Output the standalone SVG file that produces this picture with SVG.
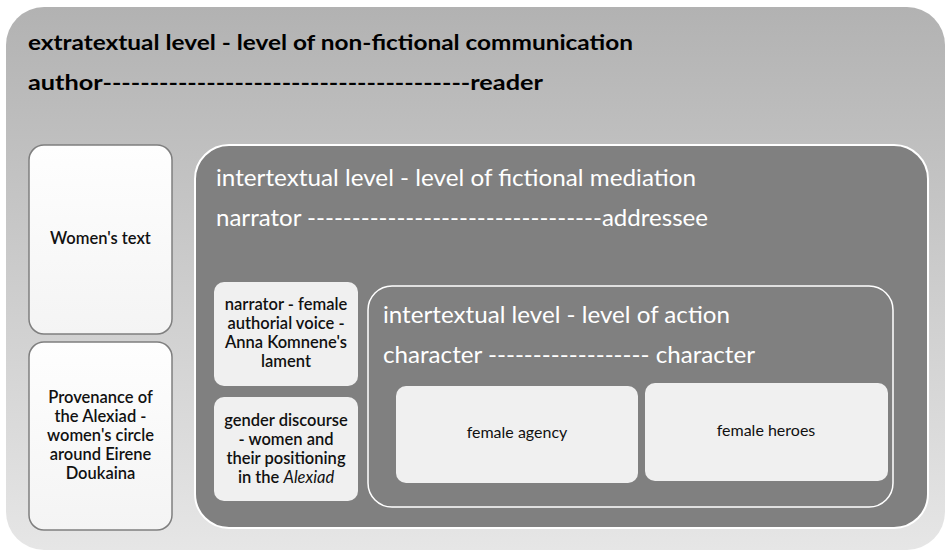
<svg xmlns="http://www.w3.org/2000/svg" width="949" height="553" viewBox="0 0 949 553">
<defs>
<linearGradient id="gOuter" x1="0" y1="0" x2="0" y2="1">
<stop offset="0" stop-color="#b2b2b2"/>
<stop offset="1" stop-color="#e6e6e6"/>
</linearGradient>
<linearGradient id="gSide" x1="0" y1="0" x2="0" y2="1">
<stop offset="0" stop-color="#fefefe"/>
<stop offset="1" stop-color="#f4f4f4"/>
</linearGradient>
</defs>
<style>
.hdr{font-family:Lato,"Liberation Sans",sans-serif;font-size:21px;font-weight:bold;fill:#000}
.wht{font-family:Lato,"Liberation Sans",sans-serif;font-size:23px;fill:#ffffff}
.lbl{font-family:Lato,"Liberation Sans",sans-serif;font-size:16.5px;font-weight:600;fill:#111;text-anchor:middle}
.lbl2{font-family:Lato,"Liberation Sans",sans-serif;font-size:16px;fill:#111;text-anchor:middle}
.side{fill:url(#gSide);stroke:#7f7f7f;stroke-width:1.5}
.soft{fill:#f0f0f0}
</style>
<g id="extratextual">
<rect x="6" y="7" width="939" height="543" rx="38" fill="url(#gOuter)"/>
<text class="hdr" x="28" y="50" textLength="605" lengthAdjust="spacingAndGlyphs">extratextual level - level of non-fictional communication</text>
<text class="hdr" x="28" y="90" textLength="515" lengthAdjust="spacingAndGlyphs">author---------------------------------------reader</text>
</g>
<g id="womens-text">
<rect class="side" x="29" y="145" width="143" height="189" rx="15"/>
<text class="lbl" x="100.5" y="244">Women's text</text>
</g>
<g id="provenance">
<rect class="side" x="29" y="342" width="143" height="188" rx="15"/>
<text class="lbl" x="100.5" y="403">Provenance of</text>
<text class="lbl" x="100.5" y="422">the Alexiad -</text>
<text class="lbl" x="100.5" y="441">women's circle</text>
<text class="lbl" x="100.5" y="460">around Eirene</text>
<text class="lbl" x="100.5" y="479">Doukaina</text>
</g>
<g id="fictional-mediation">
<rect x="195" y="145" width="733" height="383" rx="34" fill="#808080" stroke="#ffffff" stroke-width="2"/>
<text class="wht" x="216" y="186" textLength="480" lengthAdjust="spacingAndGlyphs">intertextual level - level of fictional mediation</text>
<text class="wht" x="216" y="226" textLength="492" lengthAdjust="spacingAndGlyphs">narrator ---------------------------------addressee</text>
</g>
<g id="narrator-voice">
<rect class="soft" x="214" y="282" width="144" height="104" rx="10"/>
<text class="lbl" x="286" y="310">narrator - female</text>
<text class="lbl" x="286" y="329">authorial voice -</text>
<text class="lbl" x="286" y="348">Anna Komnene's</text>
<text class="lbl" x="286" y="367">lament</text>
</g>
<g id="gender-discourse">
<rect class="soft" x="214" y="397" width="144" height="104" rx="10"/>
<text class="lbl" x="286" y="426">gender discourse</text>
<text class="lbl" x="286" y="445">- women and</text>
<text class="lbl" x="286" y="464">their positioning</text>
<text class="lbl" x="286" y="483">in the <tspan font-style="italic" font-weight="normal">Alexiad</tspan></text>
</g>
<g id="level-of-action">
<rect x="368" y="286" width="525" height="221" rx="24" fill="none" stroke="#ffffff" stroke-width="1.5"/>
<text class="wht" x="383" y="323" textLength="347" lengthAdjust="spacingAndGlyphs">intertextual level - level of action</text>
<text class="wht" x="383" y="363" textLength="372" lengthAdjust="spacingAndGlyphs">character ------------------ character</text>
</g>
<g id="female-agency">
<rect class="soft" x="396" y="386" width="242" height="97" rx="10"/>
<text class="lbl2" x="517" y="438">female agency</text>
</g>
<g id="female-heroes">
<rect class="soft" x="645" y="383" width="243" height="98" rx="10"/>
<text class="lbl2" x="766" y="436">female heroes</text>
</g>
<g id="connectors"></g>
</svg>
